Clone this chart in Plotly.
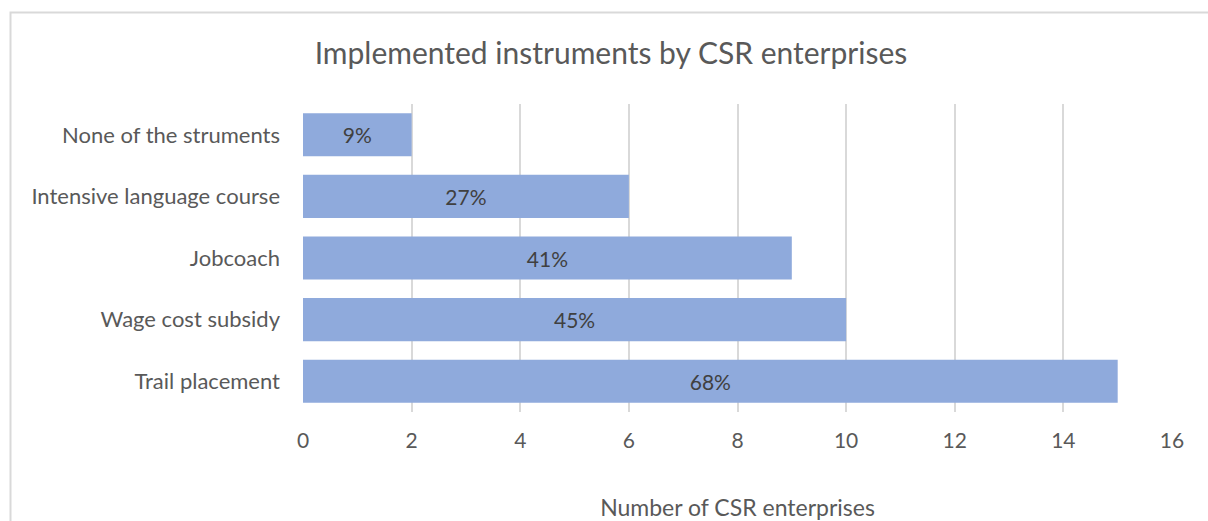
import plotly.graph_objects as go

categories = ["Trail placement", "Wage cost subsidy", "Jobcoach",
              "Intensive language course", "None of the struments"]
values = [15, 10, 9, 6, 2]
pct_labels = ["68%", "45%", "41%", "27%", "9%"]
x_ticks = [0, 2, 4, 6, 8, 10, 12, 14, 16]

FONT = "Lato"
TXT = "#595959"

fig = go.Figure(go.Bar(
    y=categories, x=values, orientation="h",
    marker=dict(color="#8FAADC", line=dict(width=0)),
    width=0.7,
    text=pct_labels, textposition="inside", insidetextanchor="middle",
    textfont=dict(family=FONT, size=21, color="#404040"),
    hoverinfo="skip",
))

W, H = 1208, 521
L, R, T, B = 303, 1208 - 1172, 104, 521 - 412
pw, ph = W - L - R, H - T - B

def px(xp):
    return (xp - L) / pw

def py(yp):
    return (H - B - yp) / ph

fig.update_layout(
    width=W, height=H,
    margin=dict(l=L, r=R, t=T, b=B, pad=0, autoexpand=False),
    paper_bgcolor="white", plot_bgcolor="white",
    font=dict(family=FONT, color=TXT, size=21),
    showlegend=False,
    title=dict(text="Implemented instruments by CSR enterprises",
               x=611 / W, xanchor="center", y=1 - 53 / H, yanchor="middle",
               font=dict(family=FONT, size=30, color=TXT)),
    xaxis=dict(range=[0, 16], tickvals=x_ticks, showgrid=True,
               gridcolor="#D9D9D9", gridwidth=2, zeroline=False,
               showline=False, ticks="", ticklabelstandoff=14,
               automargin=False,
               tickfont=dict(family=FONT, size=21, color=TXT),
               title=dict(text="Number of CSR enterprises", standoff=71,
                          font=dict(family=FONT, size=23, color=TXT)),
               fixedrange=True),
    yaxis=dict(showgrid=False, zeroline=False, showline=False, ticks="",
               ticklabelstandoff=22, range=[-0.5, 4.5], automargin=False,
               tickfont=dict(family=FONT, size=22, color=TXT),
               fixedrange=True),
    shapes=[dict(type="rect", xref="paper", yref="paper",
                 x0=px(10.5), x1=px(1230), y0=py(560), y1=py(12.5),
                 line=dict(color="#D9D9D9", width=2), fillcolor="rgba(0,0,0,0)",
                 layer="below")],
)

fig.write_html("out.html")
